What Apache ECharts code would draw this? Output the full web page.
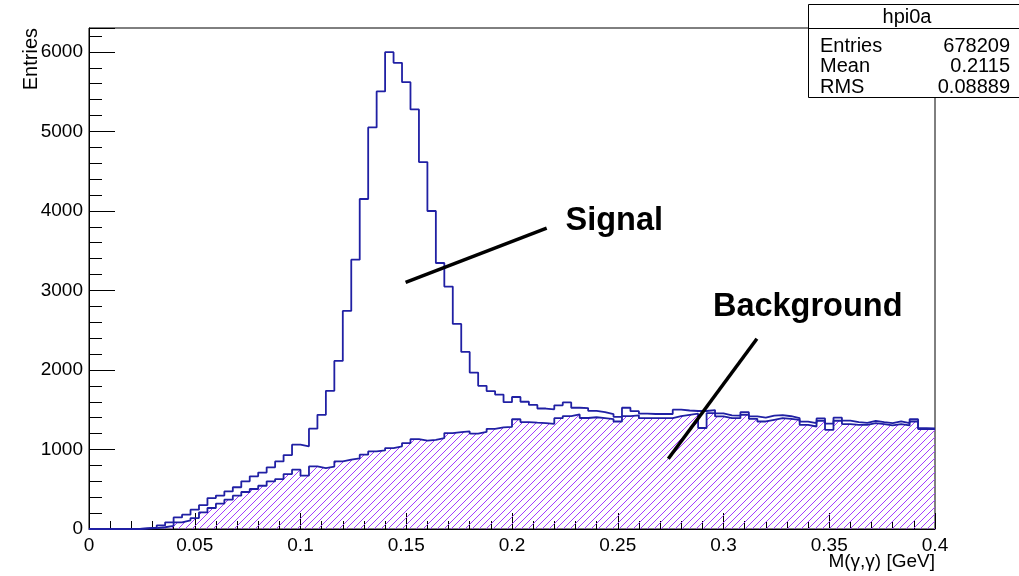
<!DOCTYPE html>
<html>
<head>
<meta charset="utf-8">
<script src="https://cdn.jsdelivr.net/npm/echarts@6/dist/echarts.min.js"></script>
<style>
  html, body { margin: 0; padding: 0; background: #ffffff; }
  #chart { width: 1019px; height: 576px; }
</style>
</head>
<body>
<div id="chart"></div>
<script>
// Histogram binning: 100 bins over 0 - 0.4 GeV
const X_MIN = 0;
const X_MAX = 0.4;
const N_BINS = 100;

// Bin contents of the full di-photon mass spectrum (signal + background)
const totalCounts = [
  0, 0, 0, 0, 0, 0, 12, 18, 45, 84,
  145, 180, 243, 300, 389, 420, 473, 525, 600, 662,
  710, 775, 850, 930, 1060, 1040, 1261, 1436, 1737, 2114,
  2742, 3387, 4150, 5050, 5502, 5996, 5862, 5619, 5276, 4614,
  3999, 3345, 3048, 2579, 2227, 1967, 1800, 1735, 1690, 1595,
  1660, 1600, 1560, 1515, 1505, 1555, 1592, 1525, 1520, 1486,
  1470, 1445, 1410, 1525, 1482, 1452, 1446, 1446, 1446, 1500,
  1490, 1484, 1484, 1496, 1455, 1430, 1426, 1468, 1415, 1400,
  1425, 1432, 1418, 1395, 1350, 1332, 1390, 1325, 1400, 1362,
  1345, 1335, 1360, 1345, 1332, 1352, 1332, 1380, 1268, 1265
];

// Bin contents of the combinatorial background
const backgroundCounts = [
  0, 0, 0, 0, 0, 0, 5, 10, 22, 38,
  84, 109, 138, 209, 264, 318, 369, 419, 465, 503,
  544, 599, 628, 691, 746, 670, 787, 766, 785, 850,
  871, 888, 934, 976, 988, 1018, 1039, 1080, 1131, 1110,
  1122, 1143, 1206, 1219, 1227, 1200, 1220, 1260, 1277, 1285,
  1380, 1345, 1338, 1332, 1322, 1394, 1420, 1440, 1396, 1405,
  1394, 1382, 1352, 1420, 1430, 1394, 1394, 1394, 1394, 1418,
  1436, 1450, 1270, 1457, 1415, 1394, 1394, 1436, 1386, 1352,
  1373, 1394, 1386, 1373, 1310, 1289, 1361, 1247, 1361, 1319,
  1310, 1310, 1331, 1319, 1302, 1319, 1302, 1352, 1256, 1256
];

// Statistics box
const histName = 'hpi0a';
const statLabels = ['Entries', 'Mean', 'RMS'];
const statValues = ['678209', '0.2115', '0.08889'];

// Axis titles
const xTitle = 'M(\u03b3,\u03b3) [GeV]';
const yTitle = 'Entries';

// Pointer annotations, in data coordinates (x in GeV, y in entries)
const annotations = [
  { text: 'Signal', from: [0.1497, 3100], to: [0.2164, 3784], label: [0.2253, 3869] },
  { text: 'Background', from: [0.2739, 884], to: [0.3158, 2393], label: [0.2950, 2788] }
];

const FONT = '"Liberation Sans", Arial, Helvetica, sans-serif';
const LINE_COLOR = '#2020a4';

// Step outline: one point per bin low edge, plus the upper edge of the last bin
function toSteps(counts) {
  const w = (X_MAX - X_MIN) / N_BINS;
  const pts = counts.map((c, i) => [X_MIN + i * w, c]);
  pts.push([X_MAX, counts[counts.length - 1]]);
  return pts;
}

// Diagonal hatch tile for the background fill
function hatchTile() {
  const s = 7;
  const c = document.createElement('canvas');
  c.width = s; c.height = s;
  const g = c.getContext('2d');
  g.strokeStyle = '#a23cff';
  g.lineWidth = 1;
  g.beginPath();
  g.moveTo(-1, s + 1); g.lineTo(s + 1, -1);
  g.moveTo(-1, 1); g.lineTo(1, -1);
  g.moveTo(s - 1, s + 1); g.lineTo(s + 1, s - 1);
  g.stroke();
  return c;
}

const chart = echarts.init(document.getElementById('chart'), null, { renderer: 'canvas' });

const option = {
  animation: false,
  backgroundColor: '#ffffff',
  grid: {
    left: 89, top: 28, width: 846, height: 501,
    show: true, borderColor: '#000', borderWidth: 1, backgroundColor: 'transparent'
  },
  xAxis: {
    type: 'value', min: X_MIN, max: X_MAX, interval: 0.05,
    axisLine: { show: true, lineStyle: { color: '#000', width: 1 } },
    axisTick: { show: true, inside: true, length: 16, lineStyle: { color: '#000', width: 1 } },
    minorTick: { show: true, splitNumber: 5, length: 8, lineStyle: { color: '#000', width: 1 } },
    splitLine: { show: false },
    axisLabel: {
      color: '#000', fontFamily: FONT, fontSize: 19, margin: 7,
      formatter: v => String(+v.toFixed(3))
    }
  },
  yAxis: [
    {
      type: 'value', position: 'left', min: 0, max: 6300, interval: 1000,
      axisLine: { show: true, lineStyle: { color: '#000', width: 1 } },
      axisTick: { show: true, inside: true, length: 26, lineStyle: { color: '#000', width: 1 } },
      splitLine: { show: false },
      axisLabel: {
        color: '#000', fontFamily: FONT, fontSize: 19, margin: 6,
        formatter: v => (v % 1000 === 0 ? String(v) : '')
      }
    },
    {
      type: 'value', position: 'left', min: 0, max: 6300, interval: 200,
      axisLine: { show: false },
      axisTick: { show: true, inside: true, length: 13, lineStyle: { color: '#000', width: 1 } },
      splitLine: { show: false },
      axisLabel: { show: false }
    }
  ],
  series: [
    {
      name: 'background', type: 'line', step: 'end', yAxisIndex: 0,
      data: toSteps(backgroundCounts), symbol: 'none', z: 2,
      lineStyle: { color: LINE_COLOR, width: 1.8 },
      areaStyle: { color: { image: hatchTile(), repeat: 'repeat' }, opacity: 1 }
    },
    {
      name: histName, type: 'line', step: 'end', yAxisIndex: 0,
      data: toSteps(totalCounts), symbol: 'none', z: 3,
      lineStyle: { color: LINE_COLOR, width: 1.8 }
    }
  ]
};

chart.setOption(option);

// Fixed page elements: axis titles and the statistics box
const graphics = [
  {
    type: 'text', x: 31, y: 28, rotation: Math.PI / 2,
    style: { text: yTitle, font: '20px ' + FONT, fill: '#000', align: 'right', verticalAlign: 'middle' }
  },
  {
    type: 'text', x: 935, y: 562,
    style: { text: xTitle, font: '19px ' + FONT, fill: '#000', align: 'right', verticalAlign: 'middle' }
  },
  {
    type: 'rect', shape: { x: 808.5, y: 4.5, width: 215, height: 93 },
    style: { fill: '#fff', stroke: '#000', lineWidth: 1 }, z: 10
  },
  {
    type: 'line', shape: { x1: 808.5, y1: 28.5, x2: 1019, y2: 28.5 },
    style: { stroke: '#000', lineWidth: 1 }, z: 11
  },
  {
    type: 'text', x: 907, y: 17, z: 12,
    style: { text: histName, font: '20px ' + FONT, fill: '#000', align: 'center', verticalAlign: 'middle' }
  }
];
statLabels.forEach((lab, i) => {
  const y = 46 + i * 20.5;
  graphics.push({
    type: 'text', x: 820, y: y, z: 12,
    style: { text: lab, font: '20px ' + FONT, fill: '#000', align: 'left', verticalAlign: 'middle' }
  });
  graphics.push({
    type: 'text', x: 1010, y: y, z: 12,
    style: { text: statValues[i], font: '20px ' + FONT, fill: '#000', align: 'right', verticalAlign: 'middle' }
  });
});

// Pointer lines and their labels, placed through the axis scales
annotations.forEach(a => {
  const p1 = chart.convertToPixel({ gridIndex: 0 }, a.from);
  const p2 = chart.convertToPixel({ gridIndex: 0 }, a.to);
  const pl = chart.convertToPixel({ gridIndex: 0 }, a.label);
  graphics.push({
    type: 'line', z: 20,
    shape: { x1: p1[0], y1: p1[1], x2: p2[0], y2: p2[1] },
    style: { stroke: '#000', lineWidth: 3.5 }
  });
  graphics.push({
    type: 'text', x: pl[0], y: pl[1], z: 20,
    style: { text: a.text, font: 'bold 32.5px ' + FONT, fill: '#000', align: 'left', verticalAlign: 'middle' }
  });
});

chart.setOption({ graphic: graphics });
</script>
</body>
</html>
